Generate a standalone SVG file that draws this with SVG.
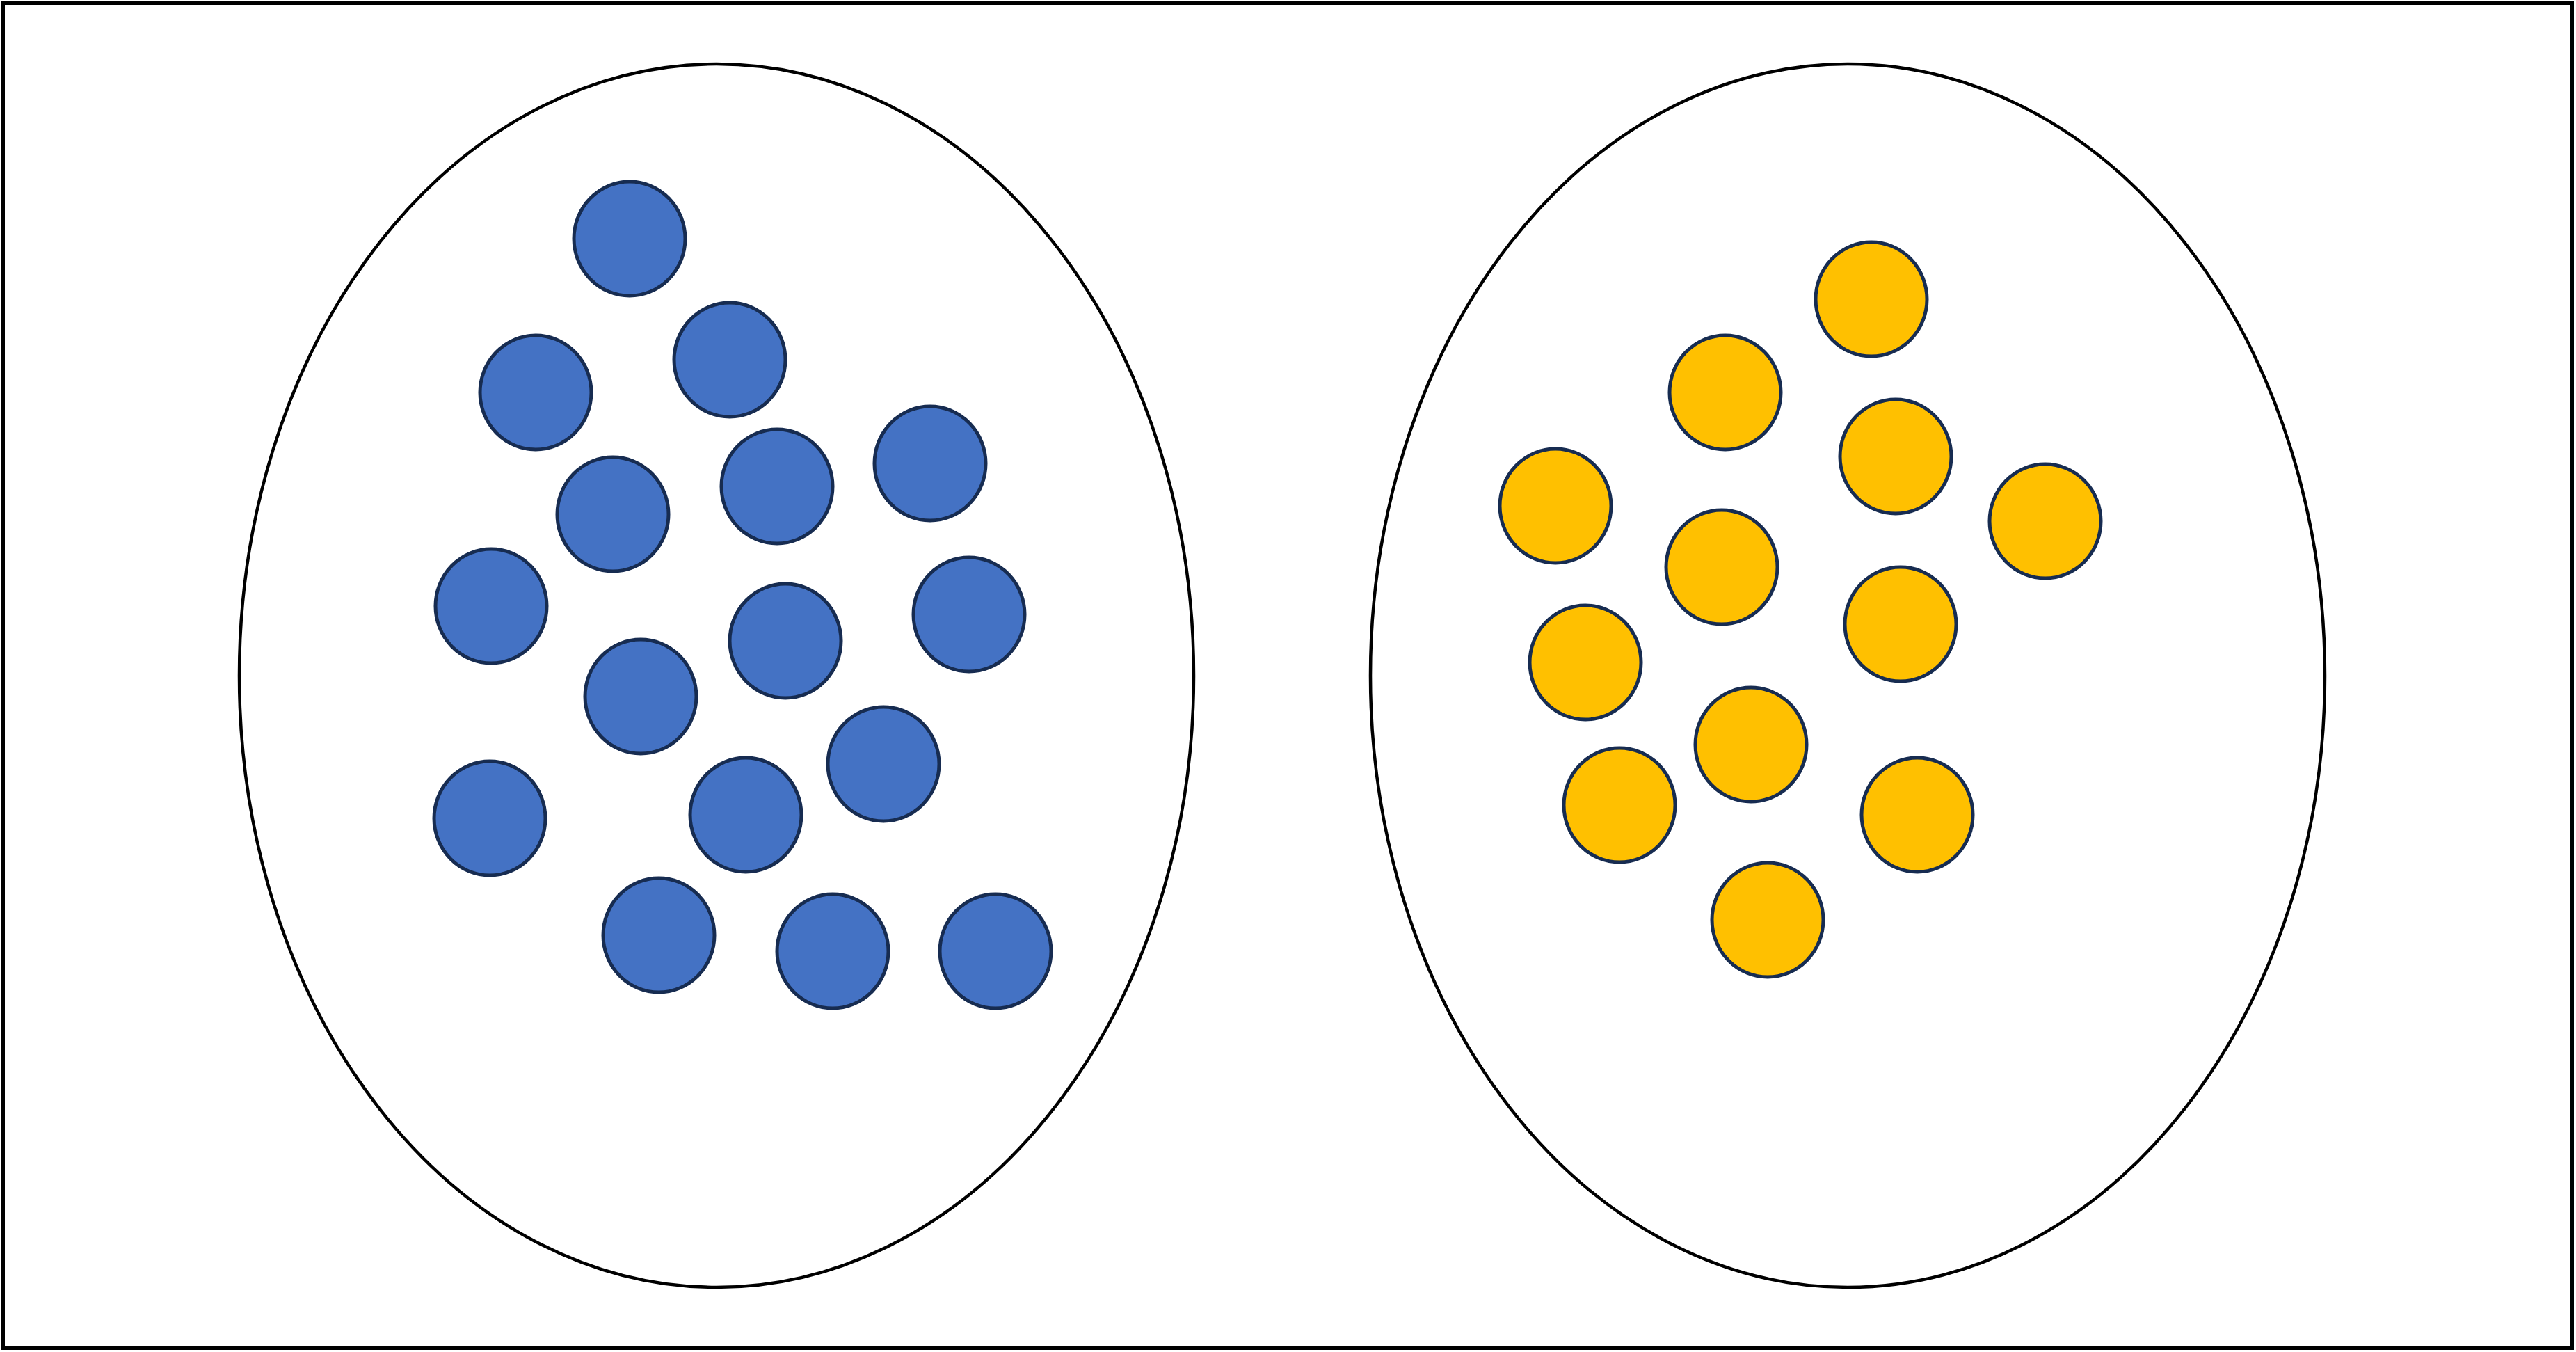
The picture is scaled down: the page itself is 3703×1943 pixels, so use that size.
<svg xmlns="http://www.w3.org/2000/svg" width="3703" height="1943" viewBox="0 0 3703 1943">
<style>
.frame{fill:#fff;stroke:#000;stroke-width:5}
.set{fill:none;stroke:#000;stroke-width:4.5}
.b{fill:#4472C4;stroke:#172C51;stroke-width:5}
.y{fill:#FFC000;stroke:#172C51;stroke-width:5}
</style>
<rect class="frame" x="4.5" y="4.5" width="3693" height="1933"/>
<g id="left-set">
<ellipse class="set" cx="1030" cy="971" rx="686" ry="879"/>
<ellipse id="b1" class="b" cx="905" cy="343" rx="80" ry="82"/>
<ellipse id="b2" class="b" cx="1049" cy="517" rx="80" ry="82"/>
<ellipse id="b3" class="b" cx="770" cy="564" rx="80" ry="82"/>
<ellipse id="b4" class="b" cx="1337" cy="666" rx="80" ry="82"/>
<ellipse id="b5" class="b" cx="1117" cy="699" rx="80" ry="82"/>
<ellipse id="b6" class="b" cx="881" cy="739" rx="80" ry="82"/>
<ellipse id="b7" class="b" cx="706" cy="871" rx="80" ry="82"/>
<ellipse id="b8" class="b" cx="1393" cy="883" rx="80" ry="82"/>
<ellipse id="b9" class="b" cx="1129" cy="921" rx="80" ry="82"/>
<ellipse id="b10" class="b" cx="921" cy="1001" rx="80" ry="82"/>
<ellipse id="b11" class="b" cx="1270" cy="1098" rx="80" ry="82"/>
<ellipse id="b12" class="b" cx="704" cy="1176" rx="80" ry="82"/>
<ellipse id="b13" class="b" cx="1072" cy="1171" rx="80" ry="82"/>
<ellipse id="b14" class="b" cx="947" cy="1344" rx="80" ry="82"/>
<ellipse id="b15" class="b" cx="1197" cy="1367" rx="80" ry="82"/>
<ellipse id="b16" class="b" cx="1431" cy="1367" rx="80" ry="82"/>
</g>
<g id="right-set">
<ellipse class="set" cx="2656" cy="971" rx="686" ry="879"/>
<ellipse id="y1" class="y" cx="2690" cy="430" rx="80" ry="82"/>
<ellipse id="y2" class="y" cx="2480" cy="564" rx="80" ry="82"/>
<ellipse id="y3" class="y" cx="2725" cy="656" rx="80" ry="82"/>
<ellipse id="y4" class="y" cx="2236" cy="727" rx="80" ry="82"/>
<ellipse id="y5" class="y" cx="2940" cy="749" rx="80" ry="82"/>
<ellipse id="y6" class="y" cx="2475" cy="815" rx="80" ry="82"/>
<ellipse id="y7" class="y" cx="2732" cy="897" rx="80" ry="82"/>
<ellipse id="y8" class="y" cx="2279" cy="952" rx="80" ry="82"/>
<ellipse id="y9" class="y" cx="2517" cy="1070" rx="80" ry="82"/>
<ellipse id="y10" class="y" cx="2756" cy="1171" rx="80" ry="82"/>
<ellipse id="y11" class="y" cx="2328" cy="1157" rx="80" ry="82"/>
<ellipse id="y12" class="y" cx="2541" cy="1322" rx="80" ry="82"/>
</g>
<g id="connectors"/>
</svg>
